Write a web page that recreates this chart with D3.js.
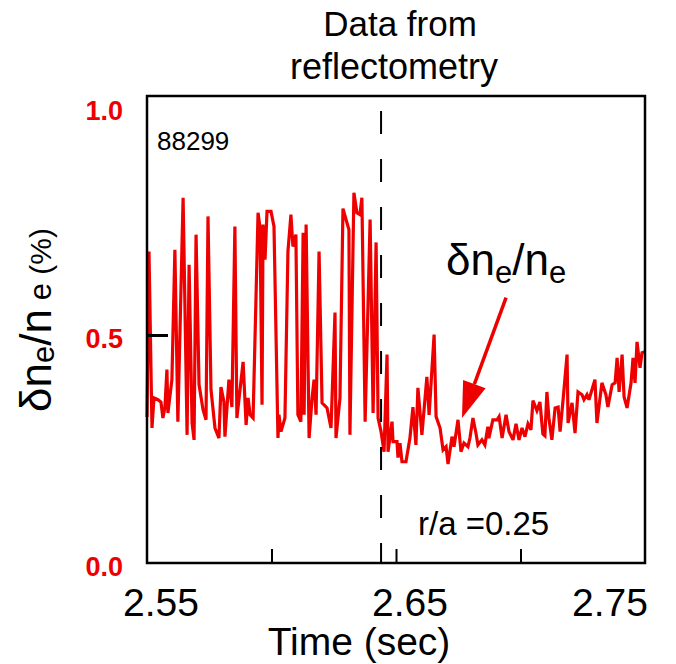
<!DOCTYPE html>
<html>
<head>
<meta charset="utf-8">
<script src="https://cdn.jsdelivr.net/npm/d3@7"></script>
<style>
  body { margin: 0; background: #fff; }
  svg { display: block; font-family: 'Liberation Sans', Arial, Helvetica, sans-serif; }
</style>
</head>
<body>
<svg id="chart"></svg>
<script>
const RED = '#ee0000'

// shot 88299, reflectometry fluctuation level
const times = [
    2.5500, 2.5508, 2.5520, 2.5528, 2.5544, 2.5556, 2.5564, 2.5572, 2.5580, 2.5584,
    2.5600, 2.5612, 2.5624, 2.5645, 2.5661, 2.5669, 2.5681, 2.5689, 2.5697, 2.5709,
    2.5725, 2.5737, 2.5745, 2.5757, 2.5773, 2.5789, 2.5797, 2.5809, 2.5813, 2.5829,
    2.5841, 2.5853, 2.5861, 2.5886, 2.5898, 2.5906, 2.5914, 2.5926, 2.5946, 2.5954,
    2.5962, 2.5966, 2.5974, 2.5982, 2.5998, 2.6010, 2.6026, 2.6030, 2.6038, 2.6054,
    2.6066, 2.6078, 2.6086, 2.6098, 2.6106, 2.6118, 2.6127, 2.6131, 2.6139, 2.6151,
    2.6163, 2.6171, 2.6179, 2.6191, 2.6203, 2.6223, 2.6239, 2.6255, 2.6259, 2.6275,
    2.6287, 2.6303, 2.6311, 2.6315, 2.6331, 2.6343, 2.6355, 2.6363, 2.6376, 2.6396,
    2.6408, 2.6420, 2.6428, 2.6440, 2.6452, 2.6464, 2.6468, 2.6484, 2.6488, 2.6504,
    2.6508, 2.6516, 2.6524, 2.6540, 2.6556, 2.6568, 2.6580, 2.6588, 2.6604, 2.6624,
    2.6633, 2.6653, 2.6661, 2.6677, 2.6689, 2.6701, 2.6709, 2.6725, 2.6733, 2.6749,
    2.6761, 2.6773, 2.6789, 2.6797, 2.6809, 2.6821, 2.6829, 2.6845, 2.6857, 2.6869,
    2.6873, 2.6889, 2.6906, 2.6914, 2.6926, 2.6942, 2.6954, 2.6970, 2.6982, 2.6994,
    2.7006, 2.7018, 2.7030, 2.7042, 2.7050, 2.7066, 2.7078, 2.7090, 2.7098, 2.7106,
    2.7114, 2.7126, 2.7139, 2.7151, 2.7159, 2.7171, 2.7187, 2.7191, 2.7207, 2.7219,
    2.7231, 2.7247, 2.7255, 2.7267, 2.7275, 2.7299, 2.7307, 2.7327, 2.7343, 2.7351,
    2.7368, 2.7380, 2.7388, 2.7396, 2.7408, 2.7416, 2.7428, 2.7444, 2.7452, 2.7460,
    2.7468, 2.7480, 2.7488, 2.7500
]
const dne = [
    0.320, 0.683, 0.296, 0.362, 0.358, 0.353, 0.318, 0.342, 0.424, 0.329,
    0.402, 0.687, 0.310, 0.801, 0.281, 0.654, 0.307, 0.270, 0.720, 0.391,
    0.336, 0.314, 0.760, 0.380, 0.296, 0.274, 0.386, 0.353, 0.277, 0.402,
    0.342, 0.738, 0.318, 0.441, 0.303, 0.362, 0.325, 0.318, 0.768, 0.735,
    0.347, 0.742, 0.665, 0.771, 0.771, 0.738, 0.274, 0.325, 0.288, 0.318,
    0.683, 0.764, 0.694, 0.720, 0.325, 0.310, 0.724, 0.325, 0.742, 0.274,
    0.362, 0.402, 0.325, 0.683, 0.351, 0.340, 0.296, 0.549, 0.274, 0.362,
    0.777, 0.746, 0.731, 0.281, 0.812, 0.768, 0.764, 0.801, 0.310, 0.753,
    0.329, 0.703, 0.318, 0.288, 0.244, 0.457, 0.244, 0.310, 0.266, 0.266,
    0.231, 0.263, 0.222, 0.222, 0.274, 0.342, 0.259, 0.384, 0.281, 0.408,
    0.325, 0.501, 0.321, 0.296, 0.248, 0.255, 0.217, 0.277, 0.255, 0.314,
    0.244, 0.263, 0.255, 0.274, 0.318, 0.285, 0.259, 0.270, 0.259, 0.299,
    0.274, 0.314, 0.314, 0.321, 0.274, 0.325, 0.288, 0.270, 0.305, 0.270,
    0.296, 0.277, 0.305, 0.292, 0.356, 0.334, 0.353, 0.283, 0.279, 0.375,
    0.318, 0.270, 0.340, 0.342, 0.288, 0.358, 0.457, 0.307, 0.351, 0.285,
    0.375, 0.369, 0.358, 0.369, 0.358, 0.402, 0.307, 0.395, 0.369, 0.342,
    0.391, 0.395, 0.450, 0.375, 0.457, 0.364, 0.340, 0.395, 0.450, 0.395,
    0.485, 0.428, 0.461, 0.463
]

const xDomain = [2.55, 2.75]
const yDomain = [0, 1.024]
const xTickMarks = [2.60, 2.65, 2.70]
const xTickLabels = [2.55, 2.65, 2.75]
const yTickMarks = [0.5]
const yTickLabels = [0.0, 0.5, 1.0]
const transitionTime = 2.644
const arrowFrom = [2.6942, 0.582]
const arrowTo = [2.6765, 0.318]

const createChart = () => {
    let w = 676, h = 664
    let margin = { top: 96, right: 31, bottom: 101, left: 147 }

    let svg = d3.select('#chart')
        .attr('width', w)
        .attr('height', h)

    svg.append('rect')
        .attr('width', w)
        .attr('height', h)
        .style('fill', 'white')

    let x = d3.scaleLinear().domain(xDomain).range([margin.left, w - margin.right])
    let y = d3.scaleLinear().domain(yDomain).range([h - margin.bottom, margin.top])

    let data = times.map((t, i) => ({ t: t, v: dne[i] }))

    // title
    svg.append('text')
        .attr('x', 400).attr('y', 36)
        .attr('text-anchor', 'middle')
        .style('font-size', '35px')
        .text('Data from')
    svg.append('text')
        .attr('x', 394).attr('y', 79)
        .attr('text-anchor', 'middle')
        .style('font-size', '36px')
        .text('reflectometry')

    // signal
    let line = d3.line()
        .x(d => x(d.t))
        .y(d => y(d.v))

    svg.append('path')
        .datum(data)
        .attr('d', line)
        .style('fill', 'none')
        .style('stroke', RED)
        .style('stroke-width', 3.2)
        .style('stroke-linejoin', 'miter')
        .style('stroke-miterlimit', 3)

    // transition marker
    svg.append('line')
        .attr('x1', x(transitionTime)).attr('x2', x(transitionTime))
        .attr('y1', y.range()[1]).attr('y2', y.range()[0])
        .style('stroke', 'black')
        .style('stroke-width', 2)
        .style('stroke-dasharray', '23,25')
        .style('stroke-dashoffset', 33)

    // frame
    svg.append('rect')
        .attr('x', x.range()[0])
        .attr('y', y.range()[1])
        .attr('width', x.range()[1] - x.range()[0])
        .attr('height', y.range()[0] - y.range()[1])
        .style('fill', 'none')
        .style('stroke', 'black')
        .style('stroke-width', 2.5)

    // inward ticks
    svg.append('g')
        .attr('transform', `translate(0,${y.range()[0]})`)
        .call(d3.axisTop(x).tickValues(xTickMarks).tickSize(14).tickFormat(''))
        .call(g => g.select('.domain').remove())
        .selectAll('line')
        .style('stroke-width', 2)

    svg.append('g')
        .attr('transform', `translate(${x.range()[0]},0)`)
        .call(d3.axisRight(y).tickValues(yTickMarks).tickSize(21).tickFormat(''))
        .call(g => g.select('.domain').remove())
        .selectAll('line')
        .style('stroke-width', 3)

    // x labels
    svg.selectAll('.xlab')
        .data(xTickLabels)
        .enter().append('text')
        .attr('class', 'xlab')
        .attr('x', (d, i) => i === xTickLabels.length - 1 ? x(d) + 3 : x(d) + 14)
        .attr('y', 616)
        .attr('text-anchor', (d, i) => i === xTickLabels.length - 1 ? 'end' : 'middle')
        .style('font-size', '39px')
        .text(d => d3.format('.2f')(d))

    svg.append('text')
        .attr('x', 359).attr('y', 655)
        .attr('text-anchor', 'middle')
        .style('font-size', '39px')
        .text('Time (sec)')

    // y labels
    svg.selectAll('.ylab')
        .data(yTickLabels)
        .enter().append('text')
        .attr('class', 'ylab')
        .attr('x', 123)
        .attr('y', d => y(d) + 13)
        .attr('text-anchor', 'end')
        .style('font-size', '27px')
        .style('font-weight', 'bold')
        .style('fill', RED)
        .text(d => d3.format('.1f')(d))

    let ylab = svg.append('text')
        .attr('transform', 'translate(51,320) rotate(-90)')
        .attr('text-anchor', 'middle')
        .style('font-size', '44px')
    ylab.append('tspan').text('δn')
    ylab.append('tspan').attr('dy', 3).style('font-size', '31px').text('e')
    ylab.append('tspan').attr('dy', -3).text('/n')
    ylab.append('tspan').style('font-size', '31px').text(' e')
    ylab.append('tspan').style('font-size', '30px').text(' (%)')

    // annotations
    svg.append('text')
        .attr('x', x.range()[0] + 10).attr('y', 150)
        .style('font-size', '26px')
        .text('88299')

    let ann = svg.append('text')
        .attr('x', 446).attr('y', 275)
        .style('font-size', '44px')
    ann.append('tspan').text('δn')
    ann.append('tspan').attr('dy', 8).style('font-size', '31px').text('e')
    ann.append('tspan').attr('dy', -8).text('/n')
    ann.append('tspan').attr('dy', 8).style('font-size', '31px').text('e')

    svg.append('text')
        .attr('x', 418).attr('y', 535)
        .style('font-size', '33px')
        .text('r/a =0.25')

    // arrow
    let x0 = x(arrowFrom[0]), y0 = y(arrowFrom[1])
    let x1 = x(arrowTo[0]), y1 = y(arrowTo[1])
    let ang = Math.atan2(y1 - y0, x1 - x0)
    let headLen = 36, headW = 12
    let bx = x1 - headLen * Math.cos(ang), by = y1 - headLen * Math.sin(ang)

    svg.append('line')
        .attr('x1', x0).attr('y1', y0)
        .attr('x2', bx).attr('y2', by)
        .style('stroke', RED)
        .style('stroke-width', 3.5)

    svg.append('path')
        .attr('d', d3.line()([
            [x1, y1],
            [bx + headW * Math.sin(ang), by - headW * Math.cos(ang)],
            [bx - headW * Math.sin(ang), by + headW * Math.cos(ang)]
        ]) + 'Z')
        .style('fill', RED)
}

createChart()
</script>
</body>
</html>
